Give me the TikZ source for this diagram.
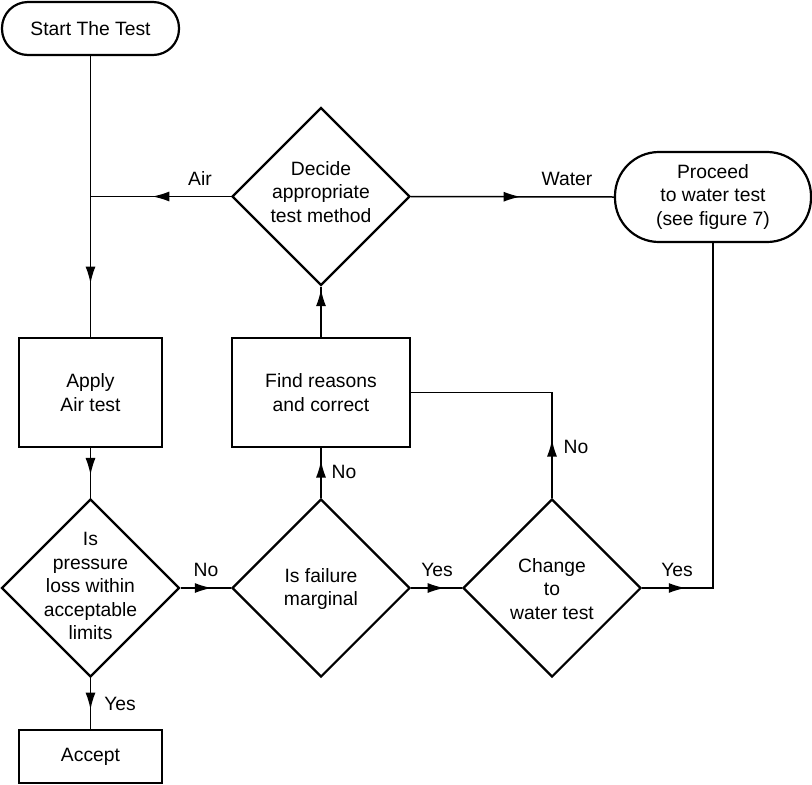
\documentclass[tikz,border=0pt]{standalone}
\usepackage{fontspec}
\setmainfont{Liberation Sans}
\usetikzlibrary{shapes.geometric,decorations.markings,arrows.meta}
\begin{document}
\begin{tikzpicture}[x=1pt,y=-1pt,
  txt/.style={font=\fontsize{19.3}{23.5}\selectfont, align=center, inner sep=0pt},
  shp/.style={draw, line width=2.2pt},
  box/.style={shp, rectangle, inner sep=0pt, txt},
  term/.style={box, rounded corners=#1},
  dia/.style={shp, diamond, minimum width=178pt, minimum height=178pt, inner sep=0pt},
  conn/.style={line width=1.5pt},
  arrowat/.style={postaction={decorate}, decoration={markings, mark=at position #1 with {\arrow{Latex[length=17pt,width=10pt]}}}},
]
\useasboundingbox (0,0) rectangle (812,785);

% shapes
\node[term=26pt, minimum width=177pt, minimum height=53pt] (start) at (90.5,28.5) {Start The Test};
\node[dia] (decide) at (321,196.5) {};
\node[txt] (decidet) at (321,192) {Decide\\appropriate\\test method};
\node[term=44pt, minimum width=196pt, minimum height=90pt] (proceed) at (713,197) {Proceed\\to water test\\(see figure 7)};
\node[box, minimum width=143pt, minimum height=109pt] (apply) at (90.5,392.5) {Apply\\Air test};
\node[box, minimum width=178pt, minimum height=109pt] (find) at (321,392.5) {Find reasons\\and correct};
\node[dia] (pressure) at (90.5,588) {};
\node[txt] (pressuret) at (90.5,586) {Is\\pressure\\loss within\\acceptable\\limits};
\node[dia] (failure) at (321,588) {};
\node[txt] (failuret) at (321,589) {Is failure\\marginal};
\node[dia] (change) at (552,588) {};
\node[txt] (changet) at (552,589) {Change\\to\\water test};
\node[box, minimum width=143pt, minimum height=53pt] (accept) at (90.5,756.5) {Accept};

% connectors
\coordinate (j1) at (90.5,196.5);
\draw[conn, arrowat=0.81] (start.south) -- (apply.north);
\draw[conn, arrowat=0.56] (decide.west) -- (j1);
\draw[conn, arrowat=0.54] (decide.east) -- (proceed.west);
\draw[conn, arrowat=0.54] (apply.south) -- (pressure.north);
\draw[conn, arrowat=0.62] (pressure.south) -- (accept.north);
\draw[conn, arrowat=0.62] (pressure.east) -- (failure.west);
\draw[conn, arrowat=0.75] (failure.north) -- (find.south);
\draw[conn, arrowat=0.95] (find.north) -- (decide.south);
\draw[conn, arrowat=0.66] (failure.east) -- (change.west);
\draw[conn, arrowat=0.237] (change.north) |- (find.east);
\draw[conn, arrowat=0.105] (change.east) -| (proceed.south);

% labels
\node[txt] (lair) at (200,179) {Air};
\node[txt] (lwater) at (567,179) {Water};
\node[txt] (lno1) at (206,570) {No};
\node[txt] (lyes1) at (120,704) {Yes};
\node[txt] (lno2) at (344,472) {No};
\node[txt] (lyes2) at (437,570) {Yes};
\node[txt] (lno3) at (576,447) {No};
\node[txt] (lyes3) at (677,570) {Yes};
\end{tikzpicture}
\end{document}
